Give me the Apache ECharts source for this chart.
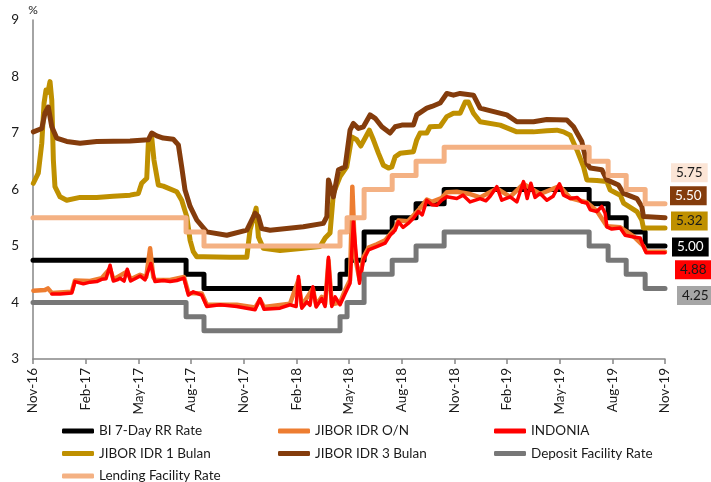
<!DOCTYPE html>
<html>
<head>
<meta charset="utf-8">
<script src="https://cdn.jsdelivr.net/npm/echarts@6/dist/echarts.min.js"></script>
<style>
  html, body { margin: 0; padding: 0; background: #fff; }
  #chart { width: 711px; height: 482px; }
</style>
</head>
<body>
<div id="chart"></div>
<script>
// x is months counted from Nov-16, ticks every quarter
const xTickLabels = ['Nov-16', 'Feb-17', 'May-17', 'Aug-17', 'Nov-17', 'Feb-18', 'May-18',
  'Aug-18', 'Nov-18', 'Feb-19', 'May-19', 'Aug-19', 'Nov-19'];

// policy rate changes (step lines)
const stepMonths = [0, 8.72, 9.74, 17.49, 17.89, 18.86, 20.46, 21.82, 23.42, 31.68, 32.76, 33.79, 34.87, 36];
const biRate =      [4.75, 4.50, 4.25, 4.50, 4.75, 5.25, 5.50, 5.75, 6.00, 5.75, 5.50, 5.25, 5.00, 5.00];
const depositRate = [4.00, 3.75, 3.50, 3.75, 4.00, 4.50, 4.75, 5.00, 5.25, 5.00, 4.75, 4.50, 4.25, 4.25];
const lendingRate = [5.50, 5.25, 5.00, 5.25, 5.50, 6.00, 6.25, 6.50, 6.75, 6.50, 6.25, 6.00, 5.75, 5.75];

const jiborON = [
  [0.02, 4.21], [0.68, 4.22], [0.85, 4.25], [1.07, 4.17], [2.21, 4.19], [2.39, 4.39], [3.25, 4.38],
  [3.91, 4.43], [4.39, 4.60], [4.58, 4.41], [5.37, 4.55], [5.56, 4.41], [6.10, 4.49], [6.45, 4.45],
  [6.67, 4.96], [6.85, 4.45], [6.95, 4.40], [7.81, 4.40], [8.60, 4.45], [8.85, 4.17], [9.61, 4.16],
  [9.90, 3.96], [11.61, 3.96], [12.65, 3.91], [12.93, 4.05], [13.16, 3.92], [14.64, 3.98], [15.12, 4.40],
  [15.31, 3.94], [15.94, 4.25], [16.13, 3.95], [16.45, 4.10], [16.64, 3.97], [16.83, 4.75], [17.02, 3.97],
  [17.49, 4.00], [17.78, 4.22], [18.06, 4.40], [18.19, 6.05], [18.35, 4.80], [18.60, 4.40], [18.82, 4.80],
  [19.11, 4.97], [19.58, 5.03], [20.06, 5.10], [20.63, 5.32], [20.81, 5.45], [21.37, 5.44], [21.95, 5.63],
  [22.43, 5.82], [22.72, 5.78], [23.27, 5.85], [23.57, 5.95], [24.14, 5.96], [24.90, 5.92], [25.47, 5.86],
  [26.42, 6.02], [27.18, 5.87], [27.94, 6.10], [28.89, 5.92], [29.99, 6.06], [30.60, 5.85], [31.55, 5.77],
  [32.12, 5.62], [32.69, 5.35], [33.45, 5.33], [34.21, 5.17], [34.77, 5.00], [34.93, 4.90], [36, 4.90]
];

const indonia = [
  [1.07, 4.15], [1.54, 4.15], [2.21, 4.17], [2.39, 4.37], [2.87, 4.33], [3.25, 4.36], [3.63, 4.37],
  [3.91, 4.41], [4.16, 4.42], [4.39, 4.66], [4.58, 4.38], [4.79, 4.40], [4.96, 4.43], [5.19, 4.38],
  [5.37, 4.59], [5.56, 4.38], [5.81, 4.42], [6.10, 4.47], [6.38, 4.40], [6.71, 4.69], [6.95, 4.37],
  [7.42, 4.39], [7.81, 4.37], [8.19, 4.39], [8.60, 4.43], [8.85, 4.13], [9.13, 4.19], [9.61, 4.13],
  [9.90, 3.93], [10.66, 3.96], [11.61, 3.93], [12.65, 3.87], [12.93, 4.07], [13.16, 3.88], [14.07, 3.90],
  [14.64, 3.96], [14.99, 3.93], [15.12, 4.46], [15.31, 3.90], [15.60, 4.01], [15.78, 3.95], [15.94, 4.28],
  [16.13, 3.92], [16.45, 4.07], [16.64, 3.93], [16.83, 4.80], [17.02, 3.93], [17.21, 4.10], [17.49, 3.96],
  [17.78, 4.16], [18.06, 4.34], [18.25, 5.43], [18.44, 4.75], [18.60, 4.34], [18.82, 4.75], [19.11, 4.93],
  [19.58, 4.99], [20.06, 5.05], [20.34, 5.19], [20.63, 5.28], [20.81, 5.43], [21.08, 5.33], [21.37, 5.40],
  [21.67, 5.49], [21.95, 5.61], [22.17, 5.55], [22.43, 5.81], [22.72, 5.73], [23.00, 5.72], [23.27, 5.81],
  [23.57, 5.87], [24.14, 5.84], [24.50, 5.90], [24.90, 5.78], [25.47, 5.84], [25.80, 5.80], [26.04, 5.88],
  [26.42, 6.05], [26.70, 5.81], [27.18, 5.87], [27.56, 5.78], [27.94, 6.14], [28.15, 5.84], [28.36, 6.11],
  [28.60, 5.86], [28.89, 5.93], [29.27, 5.81], [29.63, 5.88], [29.99, 6.10], [30.22, 5.90], [30.60, 5.84],
  [31.00, 5.86], [31.26, 5.78], [31.55, 5.76], [31.74, 5.64], [32.12, 5.61], [32.40, 5.70], [32.59, 5.58],
  [32.69, 5.34], [32.97, 5.30], [33.45, 5.32], [33.73, 5.19], [34.21, 5.16], [34.59, 5.14], [34.77, 4.99],
  [34.93, 4.88], [36, 4.88]
];

const jibor1M = [
  [0.02, 6.11], [0.30, 6.29], [0.50, 6.82], [0.63, 7.53], [0.74, 7.76], [0.85, 7.72], [0.97, 7.91],
  [1.07, 7.58], [1.16, 6.52], [1.25, 6.05], [1.54, 5.87], [1.92, 5.81], [2.68, 5.86], [3.63, 5.86],
  [4.56, 5.88], [5.53, 5.90], [6.00, 5.93], [6.19, 6.11], [6.48, 6.20], [6.57, 6.82], [6.76, 6.93],
  [6.89, 6.52], [7.14, 6.08], [7.42, 6.06], [8.19, 5.96], [8.47, 5.81], [8.76, 5.52], [8.95, 5.10],
  [9.13, 4.90], [9.33, 4.81], [9.70, 4.81], [11.23, 4.80], [12.18, 4.80], [12.36, 5.28], [12.71, 5.67],
  [12.84, 5.16], [13.12, 4.96], [14.07, 4.92], [15.40, 4.96], [16.35, 4.99], [16.64, 5.14], [16.92, 5.23],
  [17.11, 5.93], [17.49, 6.23], [17.87, 6.40], [18.16, 6.93], [18.44, 6.88], [18.67, 6.77], [18.92, 6.91],
  [19.16, 7.05], [19.39, 6.88], [19.68, 6.64], [19.96, 6.43], [20.25, 6.38], [20.44, 6.40], [20.63, 6.58],
  [20.91, 6.64], [21.67, 6.67], [21.86, 6.88], [22.05, 7.00], [22.43, 7.00], [22.62, 7.11], [23.19, 7.12],
  [23.57, 7.29], [23.95, 7.35], [24.33, 7.35], [24.62, 7.55], [24.80, 7.55], [25.09, 7.35], [25.47, 7.20],
  [26.61, 7.14], [27.56, 7.02], [28.51, 7.02], [29.27, 7.04], [29.84, 7.05], [30.22, 7.02], [30.60, 6.96],
  [30.98, 6.70], [31.36, 6.40], [31.55, 6.17], [32.12, 6.16], [32.69, 6.14], [32.88, 5.99], [33.45, 5.90],
  [33.64, 5.76], [34.40, 5.61], [34.68, 5.46], [34.77, 5.32], [36, 5.32]
];

const jibor3M = [
  [0.02, 7.02], [0.50, 7.08], [0.68, 7.35], [0.87, 7.46], [1.07, 7.11], [1.35, 6.91], [1.92, 6.85],
  [2.68, 6.82], [3.63, 6.85], [5.53, 6.86], [6.57, 6.88], [6.76, 7.00], [7.05, 6.95], [7.42, 6.91],
  [7.99, 6.89], [8.28, 6.79], [8.47, 6.40], [8.66, 5.99], [8.95, 5.70], [9.33, 5.46], [9.90, 5.25],
  [11.04, 5.19], [12.18, 5.28], [12.65, 5.58], [12.84, 5.52], [13.03, 5.31], [13.50, 5.28], [15.40, 5.34],
  [16.54, 5.40], [16.74, 5.52], [16.83, 6.17], [17.11, 5.87], [17.40, 6.35], [17.78, 6.40], [18.06, 7.05],
  [18.25, 7.17], [18.54, 7.08], [18.82, 7.11], [19.20, 7.32], [19.49, 7.26], [19.87, 7.11], [20.34, 7.00],
  [20.63, 7.11], [21.01, 7.14], [21.67, 7.14], [21.86, 7.32], [22.43, 7.44], [22.72, 7.47], [23.19, 7.53],
  [23.57, 7.70], [23.95, 7.67], [24.33, 7.70], [25.09, 7.67], [25.47, 7.44], [25.85, 7.41], [26.99, 7.32],
  [27.56, 7.20], [28.51, 7.20], [29.27, 7.24], [30.41, 7.23], [30.79, 7.11], [31.26, 6.85], [31.55, 6.46],
  [31.74, 6.38], [32.40, 6.35], [32.69, 6.17], [33.35, 6.08], [33.64, 5.93], [34.40, 5.84], [34.68, 5.70],
  [34.77, 5.52], [36, 5.50]
];

const FONT = 'Lato, "Liberation Sans", sans-serif';

const toSteps = (levels) => stepMonths.map((m, i) => [m, levels[i]]);

const lineSeries = (name, data, color, width, opts = {}) => {
  const s = {
    name,
    type: 'line',
    data,
    showSymbol: false,
    symbol: 'none',
    color,
    lineStyle: { color, width, cap: 'round', join: 'round' },
    z: opts.z || 2
  };
  if (opts.step) s.step = 'end';
  if (opts.label) {
    s.endLabel = {
      show: true,
      formatter: (p) => p.value[1].toFixed(2),
      fontFamily: FONT,
      fontSize: 13.5,
      color: opts.label.text,
      backgroundColor: opts.label.bg,
      padding: [3, 5, 2, 5],
      distance: opts.label.dx,
      offset: [0, opts.label.dy]
    };
  }
  return s;
};

const series = [
  lineSeries('BI 7-Day RR Rate', toSteps(biRate), '#000000', 5,
    { step: true, label: { bg: '#000000', text: '#ffffff', dx: 7, dy: 1 } }),
  lineSeries('JIBOR IDR O/N', jiborON, '#ED7D31', 4.5),
  lineSeries('INDONIA', indonia, '#FF0000', 3.5,
    { label: { bg: '#FF0000', text: '#1a1a1a', dx: 10, dy: 17 } }),
  lineSeries('JIBOR IDR 1 Bulan', jibor1M, '#BF9000', 5,
    { label: { bg: '#BF9000', text: '#1a1a1a', dx: 6, dy: -7 } }),
  lineSeries('JIBOR IDR 3 Bulan', jibor3M, '#843C0C', 5,
    { label: { bg: '#843C0C', text: '#ffffff', dx: 5, dy: -22 } }),
  lineSeries('Deposit Facility Rate', toSteps(depositRate), '#777777', 5,
    { step: true, label: { bg: '#A6A6A6', text: '#1a1a1a', dx: 12, dy: 7 } }),
  lineSeries('Lending Facility Rate', toSteps(lendingRate), '#F4B183', 5,
    { step: true, label: { bg: '#FBE5D6', text: '#1a1a1a', dx: 6, dy: -31 } })
];

const legendBase = {
  orient: 'vertical',
  top: 419,
  height: 90,
  itemWidth: 32,
  itemHeight: 5,
  itemGap: 8.5,
  icon: 'roundRect',
  selectedMode: false,
  textStyle: { fontFamily: FONT, fontSize: 13.5, color: '#1a1a1a', lineHeight: 14 }
};

const option = {
  animation: false,
  backgroundColor: '#ffffff',
  grid: { left: 33, right: 46, top: 20, bottom: 123 },
  legend: [
    Object.assign({}, legendBase, { left: 57, data: ['BI 7-Day RR Rate', 'JIBOR IDR 1 Bulan', 'Lending Facility Rate'] }),
    Object.assign({}, legendBase, { left: 273, data: ['JIBOR IDR O/N', 'JIBOR IDR 3 Bulan'] }),
    Object.assign({}, legendBase, { left: 489, data: ['INDONIA', 'Deposit Facility Rate'] })
  ],
  xAxis: {
    type: 'value',
    min: 0,
    max: 36,
    interval: 3,
    splitLine: { show: false },
    axisLine: { lineStyle: { color: '#868686', width: 1.5 } },
    axisTick: { show: true, length: 5, lineStyle: { color: '#868686', width: 1.5 } },
    axisLabel: {
      rotate: 90,
      margin: 9,
      fontFamily: FONT,
      fontSize: 13.5,
      color: '#1a1a1a',
      formatter: (v) => xTickLabels[Math.round(v / 3)]
    }
  },
  yAxis: {
    type: 'value',
    min: 3,
    max: 9,
    interval: 1,
    name: '%',
    nameLocation: 'end',
    nameGap: 4,
    nameTextStyle: { fontFamily: FONT, fontSize: 12, color: '#1a1a1a', align: 'center' },
    splitLine: { show: false },
    axisLine: { show: true, lineStyle: { color: '#868686', width: 1.5 } },
    axisTick: { show: false },
    axisLabel: { margin: 14, fontFamily: FONT, fontSize: 13.5, color: '#1a1a1a' }
  },
  series
};

const chart = echarts.init(document.getElementById('chart'), null, { renderer: 'canvas' });
chart.setOption(option);
</script>
</body>
</html>
